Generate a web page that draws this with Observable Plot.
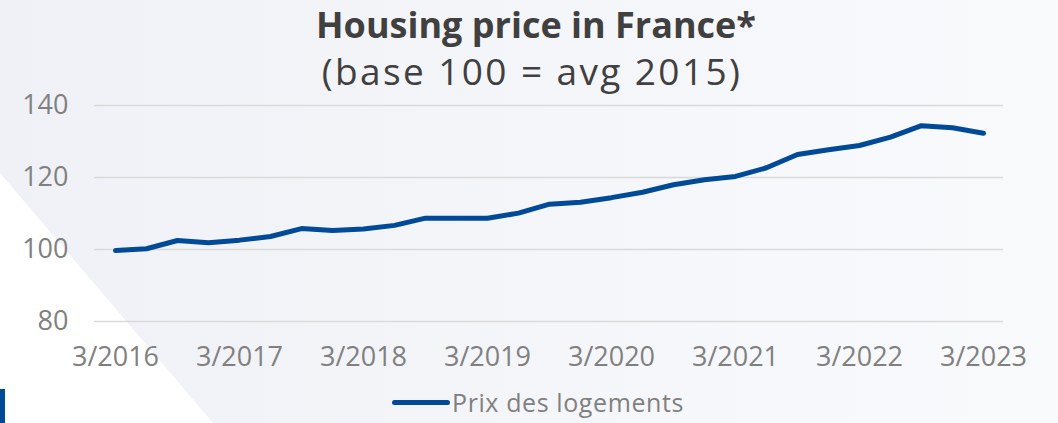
<!DOCTYPE html>
<html>
<head>
<meta charset="utf-8">
<script src="https://cdn.jsdelivr.net/npm/d3@7"></script>
<script src="https://cdn.jsdelivr.net/npm/@observablehq/plot@0.6"></script>
<style>
  html, body { margin: 0; padding: 0; }
  body {
    width: 1058px; height: 423px; overflow: hidden; position: relative;
    background: linear-gradient(90deg, #f0f1f6 0%, #f4f5f9 45%, #f9fafc 100%);
    font-family: "Open Sans", sans-serif;
  }
  #bgwhite {
    position: absolute; left: 0; top: 0; width: 1058px; height: 423px;
    background: #ffffff;
    clip-path: polygon(0px 173px, 23px 200px, 213px 423px, 0px 423px);
  }
  #bar { position: absolute; left: 0; top: 389px; width: 5px; height: 34px; background: #004a97; }
  #title {
    position: absolute; left: 0; width: 1072px; top: 0px; text-align: center;
    font-size: 36px; font-weight: 700; color: #404040; line-height: 50px;
  }
  #subtitle {
    position: absolute; left: 0; width: 1064px; top: 46px; text-align: center;
    font-size: 37px; font-weight: 400; color: #404040; line-height: 50px; letter-spacing: 2.4px;
  }
  #chart { position: absolute; left: 0; top: 70px; }
  #legend {
    position: absolute; top: 387px; left: 392px; display: flex; align-items: center;
    font-size: 25px; color: #808080; line-height: 30px; height: 30px;
  }
  #legend .sw { width: 58px; height: 5px; border-radius: 3px; background: #004a97; margin-right: 2px; }
  #legend span { letter-spacing: 0.6px; }
</style>
</head>
<body>
<div id="bgwhite"></div>
<div id="bar"></div>
<div id="title">Housing price in France*</div>
<div id="subtitle">(base 100 = avg 2015)</div>
<div id="chart"></div>
<div id="legend"><div class="sw"></div><span>Prix des logements</span></div>
<script>
const quarters = [
  "3/2016","6/2016","9/2016","12/2016",
  "3/2017","6/2017","9/2017","12/2017",
  "3/2018","6/2018","9/2018","12/2018",
  "3/2019","6/2019","9/2019","12/2019",
  "3/2020","6/2020","9/2020","12/2020",
  "3/2021","6/2021","9/2021","12/2021",
  "3/2022","6/2022","9/2022","12/2022",
  "3/2023"
];
const prices = [
  99.7, 100.2, 102.5, 101.9,
  102.6, 103.6, 105.8, 105.3,
  105.7, 106.7, 108.7, 108.7,
  108.7, 110.1, 112.6, 113.1,
  114.4, 115.9, 118.0, 119.4,
  120.3, 122.7, 126.4, 127.7,
  128.9, 131.2, 134.4, 133.8,
  132.3
];
const xTicks = ["3/2016","3/2017","3/2018","3/2019","3/2020","3/2021","3/2022","3/2023"];
const yTicks = [80, 100, 120, 140];
const seriesName = "Prix des logements";

const data = quarters.map((q, i) => ({quarter: q, value: prices[i], series: seriesName}));

const chart = Plot.plot({
  width: 1058,
  height: 310,
  marginLeft: 94,
  marginRight: 55,
  marginTop: 35,
  marginBottom: 59,
  style: {background: "transparent", fontFamily: "Open Sans, sans-serif", fontSize: "27px", color: "#808080", overflow: "visible"},
  x: {type: "point", domain: quarters, padding: 0.5, label: null},
  y: {domain: [80, 140], label: null},
  marks: [
    Plot.gridY(yTicks, {stroke: "#d9d9d9", strokeOpacity: 1, strokeWidth: 1.5}),
    Plot.axisY({ticks: yTicks, tickSize: 0, tickPadding: 26, fill: "#808080", fontSize: 27, label: null}),
    Plot.axisX({ticks: xTicks, tickSize: 0, tickPadding: 25, fill: "#808080", fontSize: 27, label: null}),
    Plot.line(data, {x: "quarter", y: "value", stroke: "#004a97", strokeWidth: 5, strokeLinecap: "round", strokeLinejoin: "round"})
  ]
});
document.getElementById("chart").appendChild(chart);
</script>
</body>
</html>
